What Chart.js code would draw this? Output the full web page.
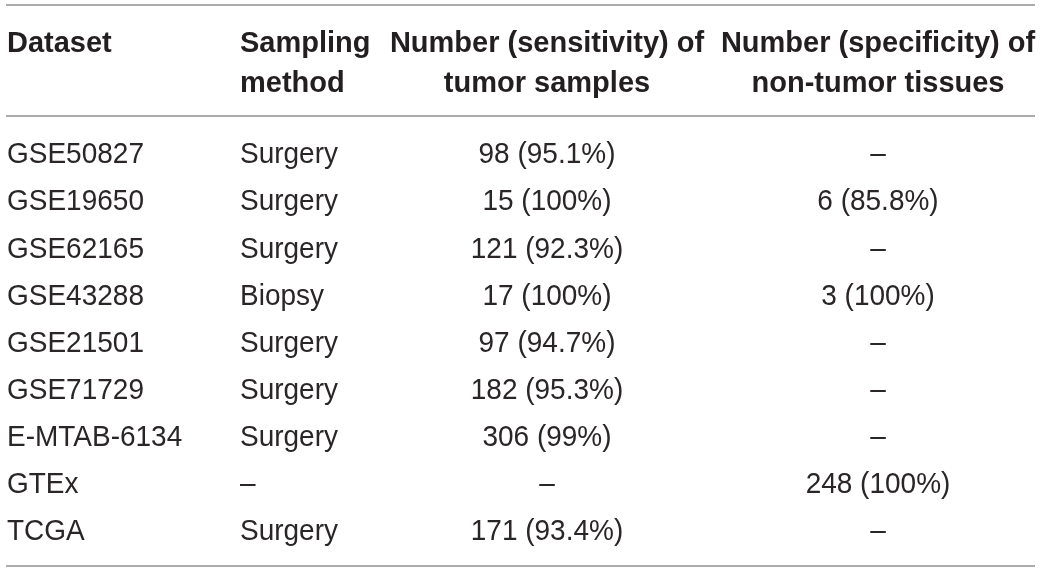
<!DOCTYPE html>
<html>
<head>
<meta charset="utf-8">
<script src="https://cdn.jsdelivr.net/npm/chart.js@4"></script>
<style>
  html, body { margin: 0; padding: 0; background: #ffffff; }
  #wrap { width: 1041px; height: 572px; }
</style>
</head>
<body>
<div id="wrap"><canvas id="c" width="1041" height="572"></canvas></div>
<script>
// ---- Data ----
const headerLines = [
  ['Dataset'],
  ['Sampling', 'method'],
  ['Number (sensitivity) of', 'tumor samples'],
  ['Number (specificity) of', 'non-tumor tissues']
];
const datasetNames = ['GSE50827', 'GSE19650', 'GSE62165', 'GSE43288', 'GSE21501', 'GSE71729', 'E-MTAB-6134', 'GTEx', 'TCGA'];
const samplingMethods = ['Surgery', 'Surgery', 'Surgery', 'Biopsy', 'Surgery', 'Surgery', 'Surgery', null, 'Surgery'];
const tumorCounts = [98, 15, 121, 17, 97, 182, 306, null, 171];
const tumorSensitivity = ['95.1', '100', '92.3', '100', '94.7', '95.3', '99', null, '93.4'];
const nonTumorCounts = [null, 6, null, 3, null, null, null, 248, null];
const nonTumorSpecificity = [null, '85.8', null, '100', null, null, null, '100', null];

// ---- Layout (not data) ----
const DASH = '\u2013';
const colAnchor = [7, 240, 547, 878];          // x positions on x scale
const colAlign = ['left', 'left', 'center', 'center'];
const headerBaselines = [-2.369, -1.52];        // y scale values
const ruleValues = [-3.36, -1.004, 8.552];      // y scale values
const TEXT = '#231f20';
const RULE = '#8f8f8f';
const BODY_SX = 0.933;                           // horizontal squeeze of body font

function fmt(n, p) { return (n === null || n === undefined) ? DASH : n + ' (' + p + '%)'; }

const cells = datasetNames.map((d, i) => [
  d,
  samplingMethods[i] === null ? DASH : samplingMethods[i],
  fmt(tumorCounts[i], tumorSensitivity[i]),
  fmt(nonTumorCounts[i], nonTumorSpecificity[i])
]);

const tablePlugin = {
  id: 'tablePlugin',
  afterDraw(chart) {
    const ctx = chart.ctx;
    const xs = chart.scales.x, ys = chart.scales.y;
    ctx.save();
    // rules
    ctx.strokeStyle = RULE;
    ctx.lineWidth = 1.5;
    ruleValues.forEach(v => {
      const y = ys.getPixelForValue(v);
      ctx.beginPath();
      ctx.moveTo(xs.getPixelForValue(6), y);
      ctx.lineTo(xs.getPixelForValue(1035), y);
      ctx.stroke();
    });
    ctx.fillStyle = TEXT;
    ctx.textBaseline = 'alphabetic';
    // header
    ctx.font = 'bold 29px "Liberation Sans", Arial, sans-serif';
    headerLines.forEach((lines, j) => {
      ctx.textAlign = colAlign[j];
      lines.forEach((t, k) => {
        ctx.fillText(t, xs.getPixelForValue(colAnchor[j]), ys.getPixelForValue(headerBaselines[k]));
      });
    });
    // body
    ctx.font = '30px "Liberation Sans", Arial, sans-serif';
    ctx.fillStyle = '#2a2627';
    cells.forEach((row, i) => {
      const y = ys.getPixelForValue(i);
      row.forEach((t, j) => {
        ctx.save();
        ctx.translate(xs.getPixelForValue(colAnchor[j]), y);
        ctx.scale(BODY_SX, 1);
        ctx.textAlign = colAlign[j];
        ctx.fillText(t, 0, 0);
        ctx.restore();
      });
    });
    ctx.restore();
  }
};

new Chart(document.getElementById('c'), {
  type: 'scatter',
  data: {
    datasets: [{
      data: datasetNames.map((d, i) => ({ x: colAnchor[0], y: i })),
      pointRadius: 0,
      pointHoverRadius: 0
    }]
  },
  options: {
    responsive: false,
    animation: false,
    devicePixelRatio: 1,
    layout: { padding: 0 },
    plugins: { legend: { display: false }, tooltip: { enabled: false } },
    events: [],
    scales: {
      x: { type: 'linear', min: 0, max: 1041, display: false },
      y: { type: 'linear', min: -3.467, max: 8.677, reverse: true, display: false }
    }
  },
  plugins: [tablePlugin]
});
</script>
</body>
</html>
